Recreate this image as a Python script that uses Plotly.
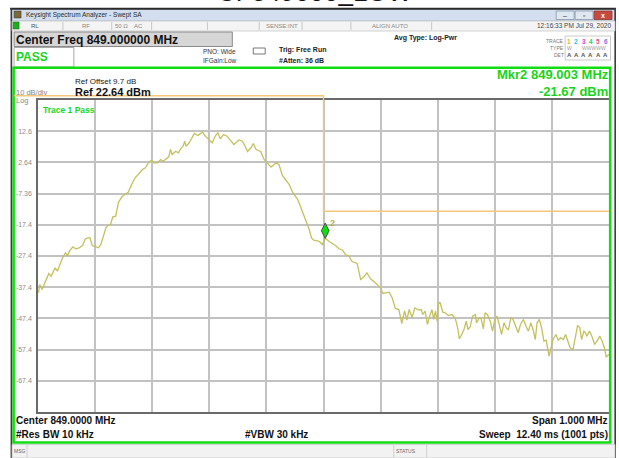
import plotly.graph_objects as go

# ---------------- data ----------------
freq_mhz = [848.501, 848.503, 848.507, 848.519, 848.523, 848.527, 848.530, 848.534, 848.537, 848.543,
            848.548, 848.552, 848.555, 848.561, 848.566, 848.572, 848.578, 848.583, 848.587, 848.591,
            848.595, 848.600, 848.606, 848.610, 848.615, 848.619, 848.622, 848.627, 848.631, 848.636,
            848.641, 848.647, 848.652, 848.658, 848.664, 848.670, 848.677, 848.683, 848.688, 848.694,
            848.699, 848.703, 848.709, 848.715, 848.719, 848.725, 848.729, 848.732, 848.735, 848.741,
            848.746, 848.750, 848.754, 848.757, 848.759, 848.764, 848.770, 848.774, 848.780, 848.784,
            848.788, 848.793, 848.799, 848.805, 848.811, 848.815, 848.819, 848.825, 848.831, 848.837,
            848.843, 848.852, 848.858, 848.863, 848.867, 848.873, 848.877, 848.882, 848.890, 848.896,
            848.901, 848.908, 848.917, 848.922, 848.928, 848.934, 848.940, 848.946, 848.951, 848.955,
            848.961, 848.966, 848.971, 848.975, 848.979, 848.983, 848.989, 848.993, 848.998, 849.003,
            849.010, 849.015, 849.021, 849.027, 849.033, 849.039, 849.044, 849.050, 849.056, 849.059,
            849.065, 849.071, 849.076, 849.082, 849.088, 849.094, 849.100, 849.104, 849.108, 849.115,
            849.120, 849.126, 849.132, 849.137, 849.142, 849.146, 849.150, 849.155, 849.160, 849.164,
            849.167, 849.171, 849.174, 849.178, 849.182, 849.186, 849.190, 849.193, 849.196, 849.199,
            849.201, 849.204, 849.209, 849.213, 849.219, 849.225, 849.231, 849.235, 849.238, 849.242,
            849.246, 849.250, 849.253, 849.257, 849.261, 849.266, 849.268, 849.273, 849.276, 849.280,
            849.283, 849.287, 849.292, 849.296, 849.300, 849.304, 849.308, 849.312, 849.316, 849.320,
            849.324, 849.328, 849.332, 849.337, 849.341, 849.345, 849.350, 849.355, 849.359, 849.363,
            849.367, 849.371, 849.374, 849.378, 849.382, 849.386, 849.390, 849.395, 849.398, 849.402,
            849.407, 849.411, 849.415, 849.420, 849.424, 849.428, 849.432, 849.437, 849.441, 849.445,
            849.449, 849.452, 849.456, 849.459, 849.461, 849.466, 849.470, 849.475, 849.479, 849.484,
            849.488, 849.492, 849.495, 849.500]

trace_dbm = [-39.15, -36.49, -38.10, -32.97, -33.83, -32.23, -31.14, -32.23, -30.63, -27.94,
             -26.33, -27.20, -25.82, -24.41, -25.05, -24.73, -23.99, -21.85, -21.53, -21.53,
             -23.99, -24.41, -24.73, -23.67, -21.01, -18.32, -17.58, -17.26, -14.80, -14.60,
             -10.12, -8.39, -7.65, -6.91, -4.44, -2.30, -0.92, 0.36, 0.91, 2.70,
             3.35, 2.51, 2.51, 3.57, 3.02, 3.79, 4.43, 6.77, 5.17, 6.23,
             5.72, 7.00, 7.83, 9.44, 7.83, 8.70, 10.52, 11.90, 11.26, 11.90,
             12.32, 11.04, 9.98, 8.92, 11.26, 12.13, 10.20, 11.58, 11.04, 9.76,
             8.38, 9.82, 9.44, 7.74, 6.13, 7.32, 8.70, 6.77, 6.13, 3.57,
             2.61, 1.17, 2.51, 1.97, -1.56, -2.84, -4.44, -7.01, -8.13, -9.25,
             -12.13, -14.54, -17.26, -18.87, -21.59, -22.29, -22.55, -22.71, -23.67, -21.67,
             -22.71, -23.19, -23.99, -25.05, -25.44, -27.04, -27.20, -29.12, -29.54, -29.76,
             -34.89, -33.93, -32.74, -34.57, -35.53, -36.65, -37.55, -39.38, -39.22, -38.96,
             -40.66, -44.18, -44.51, -48.99, -44.99, -47.87, -44.51, -47.07, -44.02, -44.51,
             -44.67, -44.51, -46.11, -45.05, -49.31, -46.65, -44.51, -47.71, -45.05, -48.25,
             -42.90, -42.17, -45.37, -45.56, -46.43, -46.11, -47.49, -50.37, -53.90, -52.52,
             -50.92, -48.25, -50.92, -50.05, -46.65, -46.11, -48.77, -47.17, -47.49, -50.69,
             -45.56, -46.11, -48.25, -51.46, -47.71, -46.65, -49.31, -52.52, -48.77, -50.37,
             -50.92, -47.17, -47.71, -50.37, -51.97, -49.31, -47.71, -50.05, -51.46, -48.77,
             -50.92, -54.12, -48.77, -47.71, -50.37, -54.66, -54.34, -59.47, -56.78, -54.12,
             -52.52, -54.34, -53.58, -54.12, -52.52, -54.66, -56.78, -57.33, -53.06, -49.63,
             -50.37, -54.12, -51.46, -51.97, -53.06, -51.46, -53.06, -55.72, -54.66, -53.06,
             -54.66, -56.78, -59.66, -58.93]

assert len(freq_mhz) == len(trace_dbm), (len(freq_mhz), len(trace_dbm))

ref_level = 22.64
db_per_div = 10
n_div = 10
center_mhz = 849.0
span_mhz = 1.0
y_tick_vals = [12.64, 2.64, -7.36, -17.36, -27.36, -37.36, -47.36, -57.36, -67.36]
y_tick_text = ["12.6", "2.64", "-7.36", "-17.4", "-27.4", "-37.4", "-47.4", "-57.4", "-67.4"]
x_grid_mhz = [848.6, 848.7, 848.8, 848.9, 849.0, 849.1, 849.2, 849.3, 849.4]

mkr_freq = 849.003
mkr_dbm = -21.67
limit_break_mhz = 849.0
limit_high_dbm = 24.0
limit_low_dbm = -13.0

# ---------------- geometry ----------------
W, H = 619, 458
L, R, T, B = 38, 611, 100, 412
f0 = center_mhz - span_mhz / 2
f1 = center_mhz + span_mhz / 2
ybot = ref_level - db_per_div * n_div


def xp(px):
    return (px - L) / (R - L)


def yp(py):
    return (B - py) / (B - T)


def f2px(f):
    return L + (f - f0) / span_mhz * (R - L)


def v2py(v):
    return T + (ref_level - v) / (ref_level - ybot) * (B - T)


FONT = "Liberation Sans, Arial, sans-serif"

fig = go.Figure()
fig.add_trace(go.Scatter(x=freq_mhz, y=trace_dbm, mode="lines",
                         line=dict(color="#c4c05e", width=1.3), hoverinfo="skip"))

# marker 2 (diamond sitting on the trace point)
px_per_db = (B - T) / (ref_level - ybot)
fig.add_trace(go.Scatter(x=[mkr_freq], y=[mkr_dbm + 7.5 / px_per_db], mode="markers",
                         marker=dict(symbol="diamond-tall", size=11, color="#0be00b",
                                     line=dict(color="#4d4d4d", width=1)),
                         hoverinfo="skip"))

shapes = []
annos = []


def rect(x0, y0, x1, y1, fill="rgba(0,0,0,0)", line="rgba(0,0,0,0)", lw=1, layer="above"):
    shapes.append(dict(type="rect", xref="paper", yref="paper", x0=xp(x0), x1=xp(x1),
                       y0=yp(y0), y1=yp(y1), fillcolor=fill, line=dict(color=line, width=lw),
                       layer=layer))


def hline(x0, x1, y, color, lw=1):
    shapes.append(dict(type="line", xref="paper", yref="paper", x0=xp(x0), x1=xp(x1),
                       y0=yp(y), y1=yp(y), line=dict(color=color, width=lw), layer="above"))


def vline(x, y0, y1, color, lw=1):
    shapes.append(dict(type="line", xref="paper", yref="paper", x0=xp(x), x1=xp(x),
                       y0=yp(y0), y1=yp(y1), line=dict(color=color, width=lw), layer="above"))


def txt(px, py, s, size, color="#111111", anchor="left", bold=False):
    if bold:
        s = "<b>" + s + "</b>"
    annos.append(dict(x=xp(px), y=yp(py), xref="paper", yref="paper", text=s, showarrow=False,
                      xanchor=anchor, yanchor="middle", borderpad=0, borderwidth=0,
                      align=anchor if anchor != "center" else "center",
                      font=dict(family=FONT, size=size, color=color)))


# big (cropped) page title above the window
annos.append(dict(x=xp(316), y=yp(-8), xref="paper", yref="paper", text="CF849000_LOW",
                  showarrow=False, xanchor="center", yanchor="middle",
                  font=dict(family=FONT, size=26, color="#111111")))

# window frame and title bar
rect(11, 9, 617, 21, fill="#d3dfee", line="#9fb0c6", lw=0.8)
hline(10, 618, 8.8, "#2a2a2a", 2)
vline(11.3, 8, 458, "#3a3a3a", 1.6)
vline(617.2, 8, 458, "#3a3a3a", 1.6)
rect(14, 11, 21, 18, fill="#7a6a3a", line="#333333", lw=0.5)
txt(26, 15, "Keysight Spectrum Analyzer - Swept SA", 6.5, "#2a2a2a")
rect(558, 11, 576, 19.5, fill="#dfe7f1", line="#8797ac", lw=0.8)
rect(577, 11, 595, 19.5, fill="#dfe7f1", line="#8797ac", lw=0.8)
rect(596, 11, 614, 19.5, fill="#c8493f", line="#8a3a33", lw=0.8)
txt(567, 15.5, "‒", 7, "#333333", "center")
txt(586, 15.5, "▫", 7, "#333333", "center")
txt(605, 15.2, "x", 7, "#ffffff", "center", True)

# status row
rect(12, 21, 617, 31, fill="#f4f4f4", line="#c8c8c8", lw=0.8)
for sx in [63, 112, 152, 208, 260, 303, 352, 433]:
    vline(sx, 22, 30, "#bdbdbd", 0.8)
rect(13, 22, 19, 29, fill="#1fae1f", line="#116611", lw=0.5)
txt(31, 26, "RL", 6, "#555555")
txt(82, 26, "RF", 6, "#888888")
txt(115, 26, "50 Ω", 6, "#888888")
txt(134, 26, "AC", 6, "#888888")
txt(267, 26, "SENSE:INT", 6, "#888888")
txt(373, 26, "ALIGN AUTO", 6, "#888888")
txt(613, 26, "12:16:33 PM Jul 29, 2020", 6.5, "#444444", "right")

# second row
rect(14, 32, 233, 46.5, fill="#d6d6d6", line="#8a8a8a", lw=1)
txt(16, 39.5, "Center Freq 849.000000 MHz", 12, "#111111", bold=True)
rect(14, 47.5, 74, 67, fill="#ffffff", line="#a8a8a8", lw=1)
txt(16, 57, "PASS", 12, "#17d417", bold=True)
txt(204, 51.5, "PNO: Wide", 6.5, "#333333")
txt(204, 60.5, "IFGain:Low", 6.5, "#333333")
rect(254, 48, 266, 54, fill="#ffffff", line="#555555", lw=0.8)
txt(280, 50.5, "Trig: Free Run", 7, "#222222", bold=True)
txt(280, 60, "#Atten: 36 dB", 7, "#222222", bold=True)
txt(395, 38, "Avg Type: Log-Pwr", 7, "#222222", bold=True)

# trace legend block
rect(567, 36, 612.5, 60, line="#bcbcbc", lw=0.8)
txt(566, 41, "TRACE", 5, "#777777", "right")
txt(566, 48, "TYPE", 5, "#777777", "right")
txt(566, 55, "DET", 5, "#777777", "right")
trace_cols = ["#e8b23a", "#22c8e8", "#e040d0", "#33cc44", "#e0508a", "#8a6cf0"]
for i, c in enumerate(trace_cols):
    txt(571 + i * 7.3, 41, str(i + 1), 6.5, c, "center", True)
txt(571, 48, "W", 5, "#9a9a9a", "center")
txt(596, 48, "WWWWW", 5, "#9a9a9a", "center")
for i in range(6):
    txt(571 + i * 7.3, 55, "A", 6, "#555555", "center", True)

# main green panel
rect(13.5, 67.8, 612.2, 442.5, line="#12dd12", lw=2.6)
txt(75, 81, "Ref Offset 9.7 dB", 8, "#222222")
txt(75, 92, "Ref 22.64 dBm", 11, "#111111", bold=True)
txt(16, 92.5, "10 dB/div", 7.5, "#888888")
txt(16, 100.5, "Log", 7.5, "#888888")
txt(610.5, 83, "Mkr2 849.003 MHz<br>-21.67 dBm", 13, "#18d418", "right", True)
txt(43, 110, "Trace 1 Pass", 8.5, "#19d619", bold=True)

# bottom annotations
txt(16, 421, "Center 849.0000 MHz", 10, "#111111", bold=True)
txt(16, 434, "#Res BW 10 kHz", 10, "#111111", bold=True)
txt(246, 434, "#VBW 30 kHz", 10, "#111111", bold=True)
txt(610, 421, "Span 1.000 MHz", 10, "#111111", "right", True)
txt(610, 434, "Sweep  12.40 ms (1001 pts)", 10, "#111111", "right", True)

# bottom status bar
rect(12, 444.5, 617, 458, fill="#f2f2f2", line="#c8c8c8", lw=0.8)
vline(27, 445, 458, "#c8c8c8", 0.8)
vline(395, 445, 458, "#c8c8c8", 0.8)
vline(428, 445, 458, "#c8c8c8", 0.8)
txt(14, 451, "MSG", 5, "#666666")
txt(397, 451, "STATUS", 5, "#666666")

# limit line (drawn from its levels; upper part sits above the screen)
lx_break = f2px(limit_break_mhz)
ly_hi = v2py(limit_high_dbm)
ly_lo = v2py(limit_low_dbm)
path = "M {a},{b} L {c},{b} L {c},{d} L {e},{d}".format(
    a=xp(14), b=yp(ly_hi), c=xp(lx_break), d=yp(ly_lo), e=xp(f2px(f1)))
shapes.append(dict(type="path", xref="paper", yref="paper", path=path,
                   line=dict(color="#f6c679", width=1.4), layer="above"))

# marker label "2"
annos.append(dict(x=mkr_freq, y=mkr_dbm, xref="x", yref="y", text="<b>2</b>", showarrow=False,
                  xshift=7, yshift=15, font=dict(family=FONT, size=9, color="#b4b04a")))

fig.update_layout(
    width=W, height=H,
    margin=dict(l=L, r=W - R, t=T, b=H - B, pad=0),
    paper_bgcolor="#ffffff", plot_bgcolor="#ffffff",
    showlegend=False,
    shapes=shapes, annotations=annos,
    xaxis=dict(range=[f0, f1], tickvals=x_grid_mhz, showticklabels=False, ticks="",
               showgrid=True, gridcolor="#c2c2c2", gridwidth=1.6, zeroline=False,
               showline=True, linecolor="#6a6a6a", linewidth=1.5, mirror=True, fixedrange=True),
    yaxis=dict(range=[ybot, ref_level], tickvals=y_tick_vals, ticktext=y_tick_text,
               ticks="outside", ticklen=3, tickcolor="rgba(0,0,0,0)",
               tickfont=dict(family=FONT, size=7, color="#8c8c8c"),
               showgrid=True, gridcolor="#c2c2c2", gridwidth=1.6, zeroline=False,
               showline=True, linecolor="#6a6a6a", linewidth=1.5, mirror=True, fixedrange=True),
)

fig.write_html("out.html", config={"displayModeBar": False},
               post_script="document.body.style.margin='0';document.body.style.overflow='hidden';")
